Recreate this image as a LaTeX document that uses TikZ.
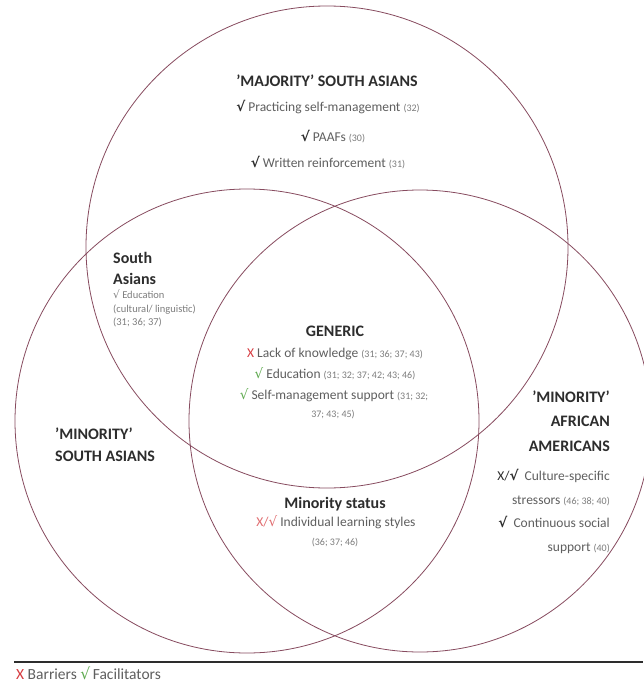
\documentclass[tikz,border=0pt]{standalone}
\usepackage{fontspec}
\setmainfont{Carlito}
\newfontfamily\symf{DejaVu Sans}
\definecolor{circ}{RGB}{135,75,95}
\definecolor{xred}{RGB}{215,60,65}
\definecolor{cgreen}{RGB}{95,170,80}
\definecolor{tdark}{RGB}{45,45,45}
\definecolor{tmid}{RGB}{95,95,95}
\definecolor{tlight}{RGB}{125,125,125}
\newcommand{\ck}{{\symf\char"221A}}
\newcommand{\bck}{{\symf\bfseries\char"221A}}
\newcommand{\cit}[1]{{\fontsize{10}{11}\selectfont\color{tlight}#1}}
\begin{document}
\begin{tikzpicture}[x=1pt,y=-1pt,
  ttl/.style={inner sep=0pt,anchor=base,font=\fontsize{16}{18}\selectfont\bfseries,text=tdark},
  itm/.style={inner sep=0pt,anchor=base,font=\fontsize{13.5}{15}\selectfont,text=tmid},
  sml/.style={inner sep=0pt,anchor=base west,font=\fontsize{10.5}{12}\selectfont,text=tlight},
  ring/.style={draw=circ,line width=0.8pt}]
\useasboundingbox (0,0) rectangle (643,690);
\fill[white] (0,0) rectangle (643,690);
% circles
\draw[ring] (327,247) circle[radius=241pt];
\draw[ring] (247,421) circle[radius=232pt];
\draw[ring] (420,421) circle[radius=231pt];
% majority
\node[ttl] (maj) at (327,87) {'MAJORITY' SOUTH ASIANS};
\node[itm] (maj1) at (328,112) {{\color{tdark}\bck}\ Practicing self-management \cit{(32)}};
\node[itm] (maj2) at (333,141) {{\color{tdark}\bck}\ PAAFs \cit{(30)}};
\node[itm] (maj3) at (328,167) {{\color{tdark}\bck}\ Written reinforcement \cit{(31)}};
% south asians
\node[ttl,anchor=base west] (sa1) at (113,263) {South};
\node[ttl,anchor=base west] (sa2) at (113,284) {Asians};
\node[sml] (sa3) at (113,298) {\ck\ Education};
\node[sml] (sa4) at (113,312) {(cultural/ linguistic)};
\node[sml] (sa5) at (113,325) {(31; 36; 37)};
% generic
\node[ttl] (gen) at (335,336) {GENERIC};
\node[itm] (gen1) at (335,357) {{\color{xred}X}\ Lack of knowledge \cit{(31; 36; 37; 43)}};
\node[itm] (gen2) at (335,378) {{\color{cgreen}\ck}\ Education \cit{(31; 32; 37; 42; 43; 46)}};
\node[itm] (gen3) at (334,399) {{\color{cgreen}\ck}\ Self-management support \cit{(31; 32;}};
\node[itm] (gen4) at (333,417) {\cit{37; 43; 45)}};
% minority south asians
\node[ttl,anchor=base west] (msa1) at (55,439) {'MINORITY'};
\node[ttl,anchor=base west] (msa2) at (55,461) {SOUTH ASIANS};
% minority african americans
\node[ttl,anchor=base east] (aa1) at (610,402) {'MINORITY'};
\node[ttl,anchor=base east] (aa2) at (610,426) {AFRICAN};
\node[ttl,anchor=base east] (aa3) at (610,451) {AMERICANS};
\node[itm,anchor=base east] (aa4) at (610,480) {{\color{tdark}X/\bck}\ \ Culture-specific};
\node[itm,anchor=base east] (aa5) at (610,504) {stressors \cit{(46; 38; 40)}};
\node[itm,anchor=base east] (aa6) at (610,527) {{\color{tdark}\bck}\ \ Continuous social};
\node[itm,anchor=base east] (aa7) at (610,551) {support \cit{(40)}};
% minority status
\node[ttl] (ms) at (335,508) {Minority status};
\node[itm] (ms1) at (336,526) {{\color{xred!75}X/\ck}\ Individual learning styles};
\node[itm] (ms2) at (335,545) {\cit{(36; 37; 46)}};
% legend
\draw[line width=1.2pt,color=tdark] (14,662) -- (643,662);
\node[itm,anchor=base west,font=\fontsize{15.5}{17}\selectfont] (leg) at (16,679) {{\color{xred}X} Barriers {\color{cgreen}\ck}\,Facilitators};
\end{tikzpicture}
\end{document}
